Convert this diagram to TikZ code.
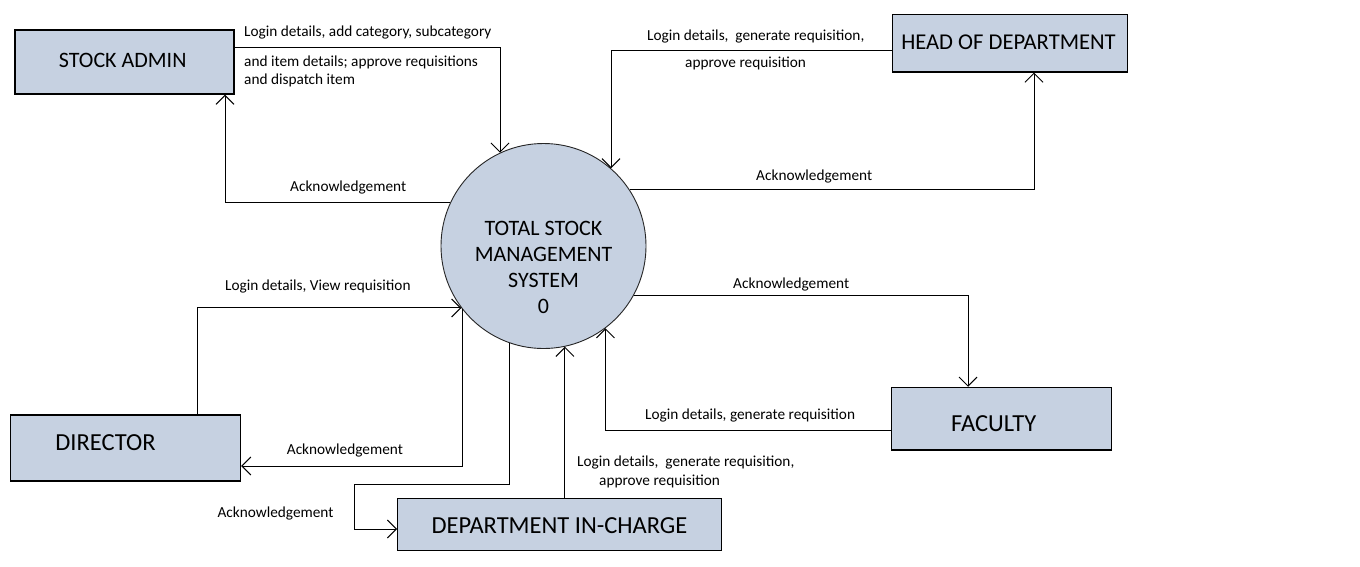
\documentclass[tikz,border=0pt]{standalone}
\usepackage{fontspec}
\setmainfont{Carlito}
\usetikzlibrary{arrows.meta}
\definecolor{boxfill}{RGB}{198,209,225}
\begin{document}
\begin{tikzpicture}[x=1pt,y=-1pt,
  box/.style={draw=black, line width=1.2pt, fill=boxfill, inner sep=0pt,
              font=\fontsize{22}{26}\selectfont},
  big/.style={font=\fontsize{24.5}{29}\selectfont},
  boxtext/.style={font=\fontsize{22}{26}\selectfont, inner sep=0pt},
  proc/.style={circle, draw=black!85, line width=0.9pt, fill=boxfill,
               minimum size=205pt, inner sep=0pt},
  flow/.style={draw=black, line width=1pt, -{Straight Barb[length=9pt,width=18pt]}},
  lbl/.style={font=\fontsize{15.3}{18}\selectfont, inner sep=0pt, anchor=base west}]

\fill[white] (0,0) rectangle (1360,566);
\path[use as bounding box] (0,0) rectangle (1360,566);

% central process
\node[proc, label={[boxtext, align=center, yshift=-21.5pt]center:TOTAL STOCK\\MANAGEMENT\\SYSTEM\\0}]
  (circ) at (543.5,246) {};

% external entities
\node[box, minimum width=219pt, minimum height=64pt,
      label={[boxtext, xshift=-1.8pt, yshift=2pt]center:STOCK ADMIN}] (sa) at (124.5,62) {};
\node[box, minimum width=235pt, minimum height=57.5pt,
      label={[boxtext, font=\fontsize{22.6}{27}\selectfont, xshift=-1.5pt, yshift=1pt]center:HEAD OF DEPARTMENT}] (hod) at (1010,43.2) {};
\node[box, minimum width=230pt, minimum height=66pt,
      label={[boxtext, big, xshift=-20pt, yshift=5pt]center:DIRECTOR}] (dir) at (125.5,448) {};
\node[box, minimum width=220pt, minimum height=62.7pt,
      label={[boxtext, big, xshift=-7.6pt, yshift=-4.6pt]center:FACULTY}] (fac) at (1001.3,418.7) {};
\node[box, minimum width=323.6pt, minimum height=52pt,
      label={[boxtext, big, yshift=-1pt]center:DEPARTMENT IN-CHARGE}] (dic) at (559.5,524.7) {};

% stock admin flows
\draw[flow] (sa.east |- 0,47) -| (circ.115);
\draw[flow] (circ.155) -| (sa.south -| 225,0);
\node[lbl] (sa1) at (244,36.5) {Login details, add category, subcategory};
\node[lbl] (sa2) at (244,66.5) {and item details; approve requisitions};
\node[lbl] (sa3) at (244,84) {and dispatch item};
\node[lbl] (sa4) at (290,191) {Acknowledgement};

% head of department flows
\draw[flow] (hod.west |- 0,50) -| (circ.49);
\draw[flow] (circ.33) -| (hod.south -| 1034,0);
\node[lbl] (hod1) at (647,40.5) {Login details,\ \ generate requisition,};
\node[lbl] (hod2) at (685,67.5) {approve requisition};
\node[lbl] (hod3) at (756,180) {Acknowledgement};

% faculty flows
\draw[flow] (circ.-29) -| (fac.north -| 968,0);
\draw[flow] (fac.west |- 0,430) -| (circ.-53);
\node[lbl] (fac1) at (733,288) {Acknowledgement};
\node[lbl] (fac2) at (645,419) {Login details, generate requisition};

% director flows
\draw[flow] (dir.north -| 197,0) |- (circ.217);
\draw[flow] (circ.-142) |- (dir.east |- 0,466);
\node[lbl] (dir1) at (225,290) {Login details, View requisition};
\node[lbl] (dir2) at (286.7,454) {Acknowledgement};

% department in-charge flows
\draw[flow] (dic.north -| circ.-78) -- (circ.-78);
\draw[flow] (circ.-109) |- (354,484) |- (dic.west |- 0,529);
\node[lbl] (dic1) at (577,466) {Login details,\ \ generate requisition,};
\node[lbl] (dic2) at (599,485.5) {approve requisition};
\node[lbl] (dic3) at (217.3,517) {Acknowledgement};
\end{tikzpicture}
\end{document}
